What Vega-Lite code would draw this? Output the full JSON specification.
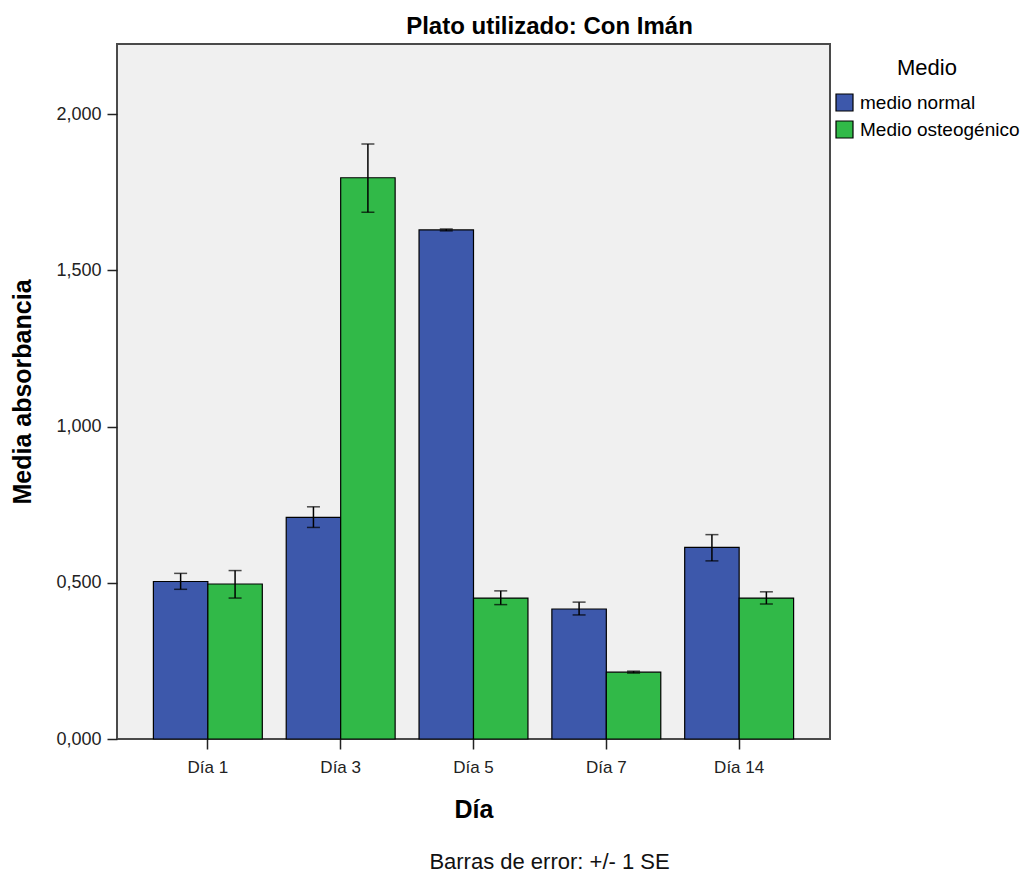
{
  "$schema": "https://vega.github.io/schema/vega-lite/v6.json",
  "width": 713,
  "height": 695,
  "autosize": "none",
  "padding": {"left": 117, "top": 44, "right": 194, "bottom": 133},
  "background": "white",
  "title": {"text": "Plato utilizado: Con Imán", "dx": 76, "dy": 23, "offset": 9, "baseline": "alphabetic"},
  "data": {
    "values": [
      {"dia": "Día 1", "medio": "medio normal", "mean": 0.504, "lo": 0.479, "hi": 0.530},
      {"dia": "Día 1", "medio": "Medio osteogénico", "mean": 0.496, "lo": 0.451, "hi": 0.539},
      {"dia": "Día 3", "medio": "medio normal", "mean": 0.709, "lo": 0.677, "hi": 0.743},
      {"dia": "Día 3", "medio": "Medio osteogénico", "mean": 1.796, "lo": 1.686, "hi": 1.904},
      {"dia": "Día 5", "medio": "medio normal", "mean": 1.629, "lo": 1.626, "hi": 1.632},
      {"dia": "Día 5", "medio": "Medio osteogénico", "mean": 0.451, "lo": 0.430, "hi": 0.474},
      {"dia": "Día 7", "medio": "medio normal", "mean": 0.416, "lo": 0.397, "hi": 0.438},
      {"dia": "Día 7", "medio": "Medio osteogénico", "mean": 0.214, "lo": 0.211, "hi": 0.217},
      {"dia": "Día 14", "medio": "medio normal", "mean": 0.613, "lo": 0.570, "hi": 0.654},
      {"dia": "Día 14", "medio": "Medio osteogénico", "mean": 0.451, "lo": 0.432, "hi": 0.471}
    ]
  },
  "layer": [
    {
      "mark": {"type": "bar", "stroke": "black", "strokeWidth": 1.2},
      "encoding": {
        "x": {"field": "dia", "type": "nominal", "sort": null, "scale": {"paddingInner": 0.18, "paddingOuter": 0.274},
              "axis": {"orient": "bottom", "title": "Día", "labelAngle": 0, "titleX": 356.5, "titleY": 78, "titleBaseline": "alphabetic", "titleAlign": "center"}},
        "xOffset": {"field": "medio", "type": "nominal", "sort": ["medio normal", "Medio osteogénico"], "scale": {"paddingInner": 0, "paddingOuter": 0}},
        "y": {"field": "mean", "type": "quantitative", "title": "Media absorbancia", "scale": {"domain": [0, 2.224], "nice": false, "zero": true},
              "axis": {"values": [0, 0.5, 1, 1.5, 2], "labelExpr": "replace(format(datum.value, '.3f'), '.', ',')", "titleX": -87, "titleY": 347.5, "titleBaseline": "alphabetic", "titleAlign": "center", "titleAngle": -90}},
        "color": {"field": "medio", "type": "nominal", "sort": ["medio normal", "Medio osteogénico"], "scale": {"range": ["#3D58AB", "#31B948"]},
                  "legend": {"title": "Medio", "orient": "none", "legendX": 718, "legendY": 14, "symbolType": "square", "symbolSize": 289, "symbolStrokeColor": "black", "symbolStrokeWidth": 1.2, "symbolOpacity": 1, "labelFontSize": 19, "labelOffset": 6, "rowPadding": 4, "titleFontSize": 22, "titleFontWeight": "normal", "titleAnchor": "middle", "titlePadding": 13, "padding": 0, "labelColor": "black", "titleColor": "black", "labelFont": "Liberation Sans", "titleFont": "Liberation Sans"}}
      }
    },
    {
      "mark": {"type": "rule", "color": "black", "strokeWidth": 1.5},
      "encoding": {
        "x": {"field": "dia", "type": "nominal", "sort": null,
              "axis": {"orient": "bottom", "title": "Barras de error: +/- 1 SE", "labels": false, "ticks": false, "domain": false, "titleFontWeight": "normal", "titleFontSize": 22, "titleX": 432, "titleY": 129, "titleBaseline": "alphabetic", "titleAlign": "center", "titleColor": "#111"}},
        "xOffset": {"field": "medio", "type": "nominal", "sort": ["medio normal", "Medio osteogénico"]},
        "y": {"field": "lo", "type": "quantitative", "title": "Media absorbancia"},
        "y2": {"field": "hi"}
      }
    },
    {
      "mark": {"type": "tick", "color": "black", "thickness": 1.5, "size": 13},
      "encoding": {
        "x": {"field": "dia", "type": "nominal", "sort": null, "axis": null},
        "xOffset": {"field": "medio", "type": "nominal", "sort": ["medio normal", "Medio osteogénico"]},
        "y": {"field": "lo", "type": "quantitative", "title": "Media absorbancia"}
      }
    },
    {
      "mark": {"type": "tick", "color": "black", "thickness": 1.5, "size": 13},
      "encoding": {
        "x": {"field": "dia", "type": "nominal", "sort": null, "axis": null},
        "xOffset": {"field": "medio", "type": "nominal", "sort": ["medio normal", "Medio osteogénico"]},
        "y": {"field": "hi", "type": "quantitative", "title": "Media absorbancia"}
      }
    }
  ],
  "resolve": {"axis": {"x": "independent"}},
  "config": {
    "font": "Liberation Sans",
    "view": {"fill": "#F0F0F0", "stroke": "#4a4a4a", "strokeWidth": 2},
    "title": {"fontSize": 24, "fontWeight": "bold", "color": "black", "font": "Liberation Sans", "anchor": "middle"},
    "axis": {"labelFont": "Liberation Sans", "titleFont": "Liberation Sans", "labelColor": "#222", "titleColor": "black", "titleFontSize": 25, "titleFontWeight": "bold", "tickColor": "#222", "tickSize": 10, "tickWidth": 1.5, "domain": false, "grid": false},
    "axisX": {"labelPadding": 10, "labelFontSize": 17},
    "axisY": {"labelPadding": 6, "labelFontSize": 18}
  }
}
